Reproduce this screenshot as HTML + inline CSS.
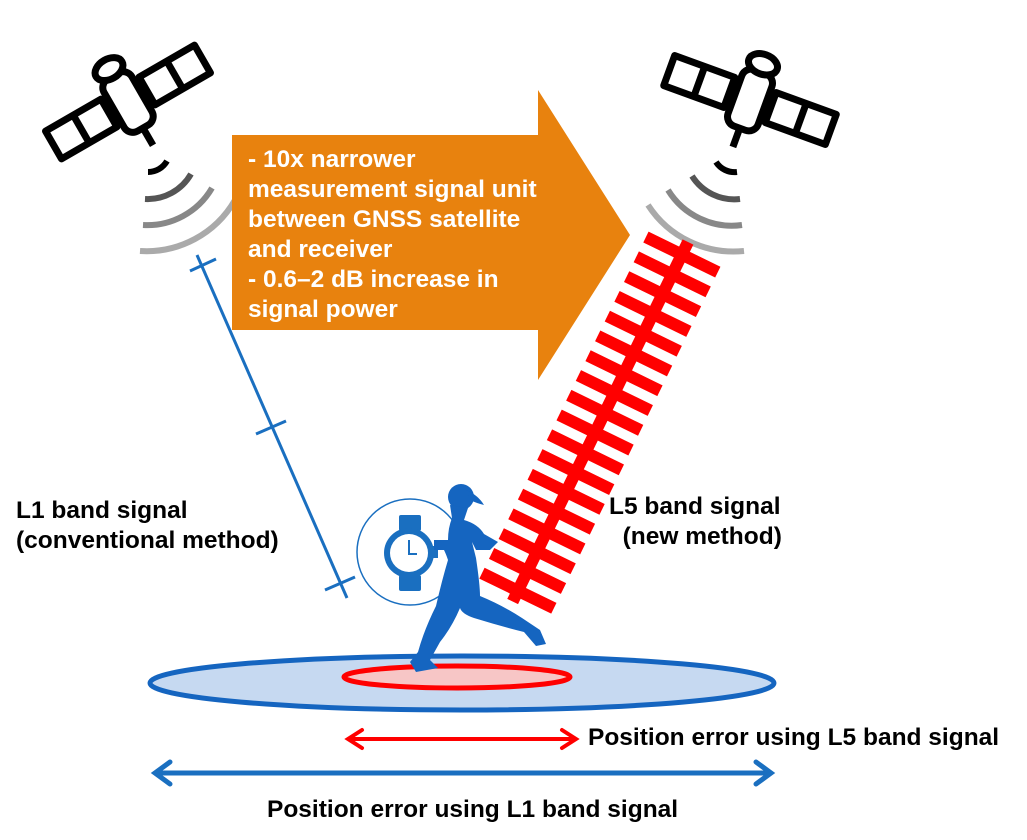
<!DOCTYPE html>
<html><head><meta charset="utf-8"><style>
html,body{margin:0;padding:0;background:#fff;}
body{width:1027px;height:840px;overflow:hidden;position:relative;font-family:"Liberation Sans",Arial,sans-serif;}
.t{position:absolute;font-weight:bold;color:#000;font-size:24.5px;line-height:30px;white-space:nowrap;}
.w{color:#fff;}
</style></head><body>
<svg width="1027" height="840" style="position:absolute;left:0;top:0">
<defs>
<g id="sat" fill="none" stroke="#000" stroke-width="7" stroke-linejoin="round">
<rect x="-16" y="-30" width="32" height="60" rx="10"/>
<ellipse cx="0" cy="-38" rx="15" ry="10" fill="#fff"/>
<line x1="0" y1="30" x2="0" y2="50"/>
<rect x="-86" y="-16" width="64" height="32"/>
<line x1="-54" y1="-16" x2="-54" y2="16"/>
<rect x="22" y="-16" width="64" height="32"/>
<line x1="54" y1="-16" x2="54" y2="16"/>
</g>
</defs>
<use href="#sat" transform="translate(128,102) rotate(-30)"/>
<use href="#sat" transform="translate(750,100) rotate(20)"/>
<g fill="none" stroke-width="6">
<path d="M148 172 A22 22 0 0 0 167 161" stroke="#000"/>
<path d="M145 199 A50 50 0 0 0 191 174" stroke="#555"/>
<path d="M143 225 A75 75 0 0 0 212 188" stroke="#888"/>
<path d="M140 251 A102 102 0 0 0 235 200" stroke="#aaa"/>
<path d="M737 172 A22 22 0 0 1 716 162" stroke="#000"/>
<path d="M740 199 A50 50 0 0 1 692 176" stroke="#555"/>
<path d="M742 225 A75 75 0 0 1 668 190" stroke="#888"/>
<path d="M744 251 A102 102 0 0 1 648 205" stroke="#aaa"/>
</g>
<g stroke="#1a6fc0" stroke-width="3">
<line x1="197" y1="255" x2="347" y2="598"/>
<line x1="190" y1="271" x2="216" y2="259"/>
<line x1="256" y1="434" x2="286" y2="421"/>
<line x1="325" y1="590" x2="355" y2="577"/>
</g>
<polygon points="232,135 538,135 538,90 630,235 538,380 538,330 232,330" fill="#e8820e"/>
<g transform="translate(688,242) rotate(26)" fill="#f00">
<rect x="-6" y="0" width="12" height="400"/>
<rect x="-40" y="8" width="80" height="12"/><rect x="-40" y="30" width="80" height="12"/>
<rect x="-40" y="52" width="80" height="12"/><rect x="-40" y="74" width="80" height="12"/>
<rect x="-40" y="96" width="80" height="12"/><rect x="-40" y="118" width="80" height="12"/>
<rect x="-40" y="140" width="80" height="12"/><rect x="-40" y="162" width="80" height="12"/>
<rect x="-40" y="184" width="80" height="12"/><rect x="-40" y="206" width="80" height="12"/>
<rect x="-40" y="228" width="80" height="12"/><rect x="-40" y="250" width="80" height="12"/>
<rect x="-40" y="272" width="80" height="12"/><rect x="-40" y="294" width="80" height="12"/>
<rect x="-40" y="316" width="80" height="12"/><rect x="-40" y="338" width="80" height="12"/>
<rect x="-40" y="360" width="80" height="12"/><rect x="-40" y="382" width="80" height="12"/>
</g>
<ellipse cx="462" cy="683" rx="312" ry="27" fill="#c6d9f1" stroke="#1565c0" stroke-width="5"/>
<ellipse cx="457" cy="677" rx="113" ry="11" fill="#f7c6c6" stroke="#f00" stroke-width="5"/>
<circle cx="410" cy="552" r="53" fill="#fff" stroke="#1a6fc0" stroke-width="1.5"/>
<g fill="#1a6fc0">
<rect x="399" y="515" width="22" height="16" rx="2"/>
<rect x="399" y="575" width="22" height="16" rx="2"/>
<circle cx="409" cy="553" r="25"/>
<rect x="432" y="546" width="6" height="12"/>
</g>
<circle cx="409" cy="553" r="19" fill="#fff"/>
<path d="M409 540 V554 H417" stroke="#1a6fc0" stroke-width="2" fill="none"/>
<g fill="#1565c0">
<circle cx="461" cy="497" r="13"/>
<path d="M466 490 Q478 495 484 505 Q476 503 470 500 Z"/>
<path d="M450 505 L468 508 L464 520 Q478 524 484 534 L498 542 L490 550 L476 550 L472 542 L476 558 Q480 585 480 596 Q502 605 522 618 L540 630 L546 644 L536 646 L524 632 Q500 626 474 618 Q462 614 460 608 Q452 627 440 642 L430 660 L438 668 L416 672 L410 662 L418 652 Q424 630 436 606 Q442 580 448 560 Q446 554 444 550 L434 550 L434 540 L448 540 Q448 528 452 518 Z"/>
</g>
<g stroke="#f00" stroke-width="4" fill="none" stroke-linecap="round">
<line x1="350" y1="739" x2="574" y2="739"/>
<polyline points="362,730 348,739 362,748"/>
<polyline points="562,730 576,739 562,748"/>
</g>
<g stroke="#1a6fc0" stroke-width="5" fill="none" stroke-linecap="round">
<line x1="156" y1="773" x2="768" y2="773"/>
<polyline points="170,762 155,773 170,784"/>
<polyline points="756,762 771,773 756,784"/>
</g>
</svg>
<div class="t w" style="left:248px;top:145px;">- 10x narrower<br>measurement signal unit<br>between GNSS satellite<br>and receiver<br>- 0.6–2 dB increase in<br>signal power</div>
<div class="t" style="left:16px;top:496px;">L1 band signal<br>(conventional method)</div>
<div class="t" style="left:609px;top:492px;">L5 band signal<br>&nbsp;&nbsp;(new method)</div>
<div class="t" style="left:588px;top:723px;">Position error using L5 band signal</div>
<div class="t" style="left:267px;top:795px;">Position error using L1 band signal</div>
</body></html>
